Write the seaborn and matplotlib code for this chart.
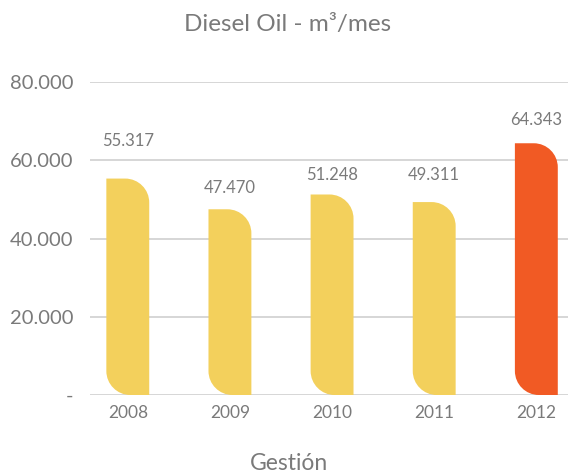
import numpy as np
import pandas as pd
import matplotlib
matplotlib.use("Agg")
import matplotlib.pyplot as plt
from matplotlib.path import Path
from matplotlib.patches import PathPatch
import seaborn as sns

# data
years = ["2008", "2009", "2010", "2011", "2012"]
values = [55317, 47470, 51248, 49311, 64343]
value_labels = ["55.317", "47.470", "51.248", "49.311", "64.343"]
label_heights = [64900, 52900, 56200, 56200, 70200]
yticks = [0, 20000, 40000, 60000, 80000]
ytick_labels = ["-", "20.000", "40.000", "60.000", "80.000"]

bar_colors = ["#F3D05C"] * 4 + ["#F15A24"]
text_color = "#7A7A7A"

sns.set_theme(style="white")
plt.rcParams["font.family"] = ["Lato", "DejaVu Sans"]

df = pd.DataFrame({"year": years, "value": values})

fig = plt.figure(figsize=(5.68, 4.75), dpi=100)
ax = fig.add_axes([90 / 568, 80 / 475, 478 / 568, 313 / 475])

sns.barplot(data=df, x="year", y="value", hue="year", palette=bar_colors,
            saturation=1, width=0.42, legend=False, ax=ax, zorder=3)

ax.set_ylim(0, 80000)
ax.set_xlim(-0.37, 4.31)

# rounded "leaf" bars: top-right and bottom-left corners
fig.canvas.draw()
px_x = ax.transData.transform((1, 0))[0] - ax.transData.transform((0, 0))[0]
px_y = ax.transData.transform((0, 1000))[1] - ax.transData.transform((0, 0))[1]
r_px = 24
rx = r_px / px_x
ry = r_px / (px_y / 1000)
k = 0.5523
for p in list(ax.patches):
    x0, y0 = p.get_x(), p.get_y()
    w, h = p.get_width(), p.get_height()
    x1, y1 = x0 + w, y0 + h
    verts = [
        (x0 + rx, y0),
        (x1, y0),
        (x1, y1 - ry),
        (x1, y1 - ry + k * ry), (x1 - rx + k * rx, y1), (x1 - rx, y1),
        (x0, y1),
        (x0, y0 + ry),
        (x0, y0 + ry - k * ry), (x0 + rx - k * rx, y0), (x0 + rx, y0),
        (x0 + rx, y0),
    ]
    codes = [Path.MOVETO, Path.LINETO, Path.LINETO,
             Path.CURVE4, Path.CURVE4, Path.CURVE4,
             Path.LINETO, Path.LINETO,
             Path.CURVE4, Path.CURVE4, Path.CURVE4,
             Path.CLOSEPOLY]
    ax.add_patch(PathPatch(Path(verts, codes), facecolor=p.get_facecolor(),
                           edgecolor="none", zorder=3))
    p.set_visible(False)

for i, (lab, ly) in enumerate(zip(value_labels, label_heights)):
    ax.text(i, ly, lab, ha="center", va="center", fontsize=12,
            color=text_color)

ax.set_yticks(yticks)
ax.set_yticklabels(ytick_labels)
ax.yaxis.grid(True, color="#CFCFCF", linewidth=1.2, zorder=0)
ax.tick_params(axis="y", length=0, pad=12, labelsize=14.5, labelcolor=text_color)
ax.tick_params(axis="x", length=0, pad=7, labelsize=12.5, labelcolor=text_color)
sns.despine(ax=ax, left=True, bottom=True, top=True, right=True)
ax.set_xlabel("")
ax.set_ylabel("")

fig.text(0.507, 0.948, "Diesel Oil - m³/mes", ha="center", va="center",
         fontsize=17.5, color=text_color)
fig.text(0.509, 0.025, "Gestión", ha="center", va="center",
         fontsize=16.5, color=text_color)

fig.savefig("out.png", dpi=100)
